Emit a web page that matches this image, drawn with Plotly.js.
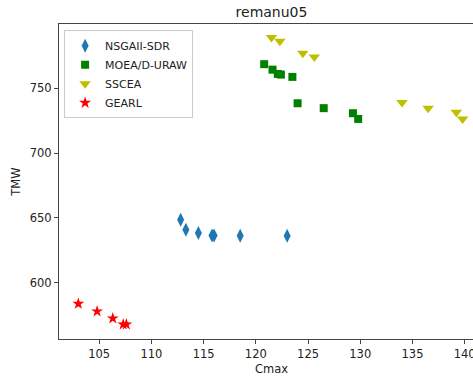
<!DOCTYPE html>
<html>
<head>
<meta charset="utf-8">
<script src="https://cdn.plot.ly/plotly-3.0.1.min.js"></script>
<style>
html,body{margin:0;padding:0;overflow:hidden;background:#fff;}
#chart{width:500px;height:376px;}
</style>
</head>
<body>
<div id="chart"></div>
<script>
// Data
const nsgaX = [112.8, 113.3, 114.5, 115.8, 116.0, 118.5, 123.0];
const nsgaY = [648.5, 640.8, 638.3, 636.4, 636.4, 636.2, 636.2];

const moeaX = [120.8, 121.6, 122.1, 122.4, 123.5, 124.0, 126.5, 129.3, 129.8];
const moeaY = [768.5, 764.3, 761.0, 760.5, 758.7, 738.4, 734.6, 730.7, 726.3];

const ssceaX = [121.5, 122.3, 124.5, 125.6, 134.0, 136.5, 139.2, 139.8];
const ssceaY = [789.0, 786.2, 777.0, 774.1, 738.9, 734.6, 731.5, 726.3];

const gearlX = [103.0, 104.8, 106.3, 107.3, 107.6];
const gearlY = [583.8, 577.9, 572.5, 567.9, 567.9];

const seriesNames = ["NSGAII-SDR", "MOEA/D-URAW", "SSCEA", "GEARL"];
const xTicks = [105, 110, 115, 120, 125, 130, 135, 140];
const yTicks = [600, 650, 700, 750];

const font = "DejaVu Sans, sans-serif";

const traces = [
  {x: nsgaX, y: nsgaY, name: seriesNames[0], type: "scatter", mode: "markers",
   marker: {symbol: "diamond-tall", size: 10, color: "#1f77b4"}},
  {x: moeaX, y: moeaY, name: seriesNames[1], type: "scatter", mode: "markers",
   marker: {symbol: "square", size: 8, color: "#008000"}},
  {x: ssceaX, y: ssceaY, name: seriesNames[2], type: "scatter", mode: "markers",
   marker: {symbol: "triangle-down", size: 10, color: "#bfbf00"}},
  {x: gearlX, y: gearlY, name: seriesNames[3], type: "scatter", mode: "markers",
   marker: {symbol: "star", size: 9, color: "#ff0000"}}
];

const axisCommon = {
  showgrid: false, zeroline: false, showline: true, mirror: true,
  linecolor: "#444", linewidth: 1, ticks: "outside", ticklen: 4,
  tickcolor: "#444", tickfont: {family: font, size: 11.5, color: "#222"}
};

const layout = {
  width: 500, height: 376,
  margin: {l: 59, r: 16, t: 24, b: 37},
  paper_bgcolor: "#fff", plot_bgcolor: "#fff",
  font: {family: font, color: "#222"},
  title: {text: "remanu05", font: {family: font, size: 14, color: "#222"},
          x: 0.5, xref: "paper", y: 0.968, yref: "container", yanchor: "middle"},
  xaxis: Object.assign({}, axisCommon, {
    range: [101.15, 141.85], tickvals: xTicks,
    title: {text: "Cmax", font: {family: font, size: 11.5, color: "#222"}, standoff: 5}
  }),
  yaxis: Object.assign({}, axisCommon, {
    range: [556.6, 799.5], tickvals: yTicks,
    title: {text: "TMW", font: {family: font, size: 11.5, color: "#222"}, standoff: 6}
  }),
  legend: {
    x: 0.012, y: 0.98, xanchor: "left", yanchor: "top",
    bgcolor: "rgba(255,255,255,0.8)", bordercolor: "#ccc", borderwidth: 1,
    font: {family: font, size: 11, color: "#222"},
    tracegroupgap: 0
  },
  showlegend: true
};

Plotly.newPlot("chart", traces, layout, {displayModeBar: false, staticPlot: true});
</script>
</body>
</html>
